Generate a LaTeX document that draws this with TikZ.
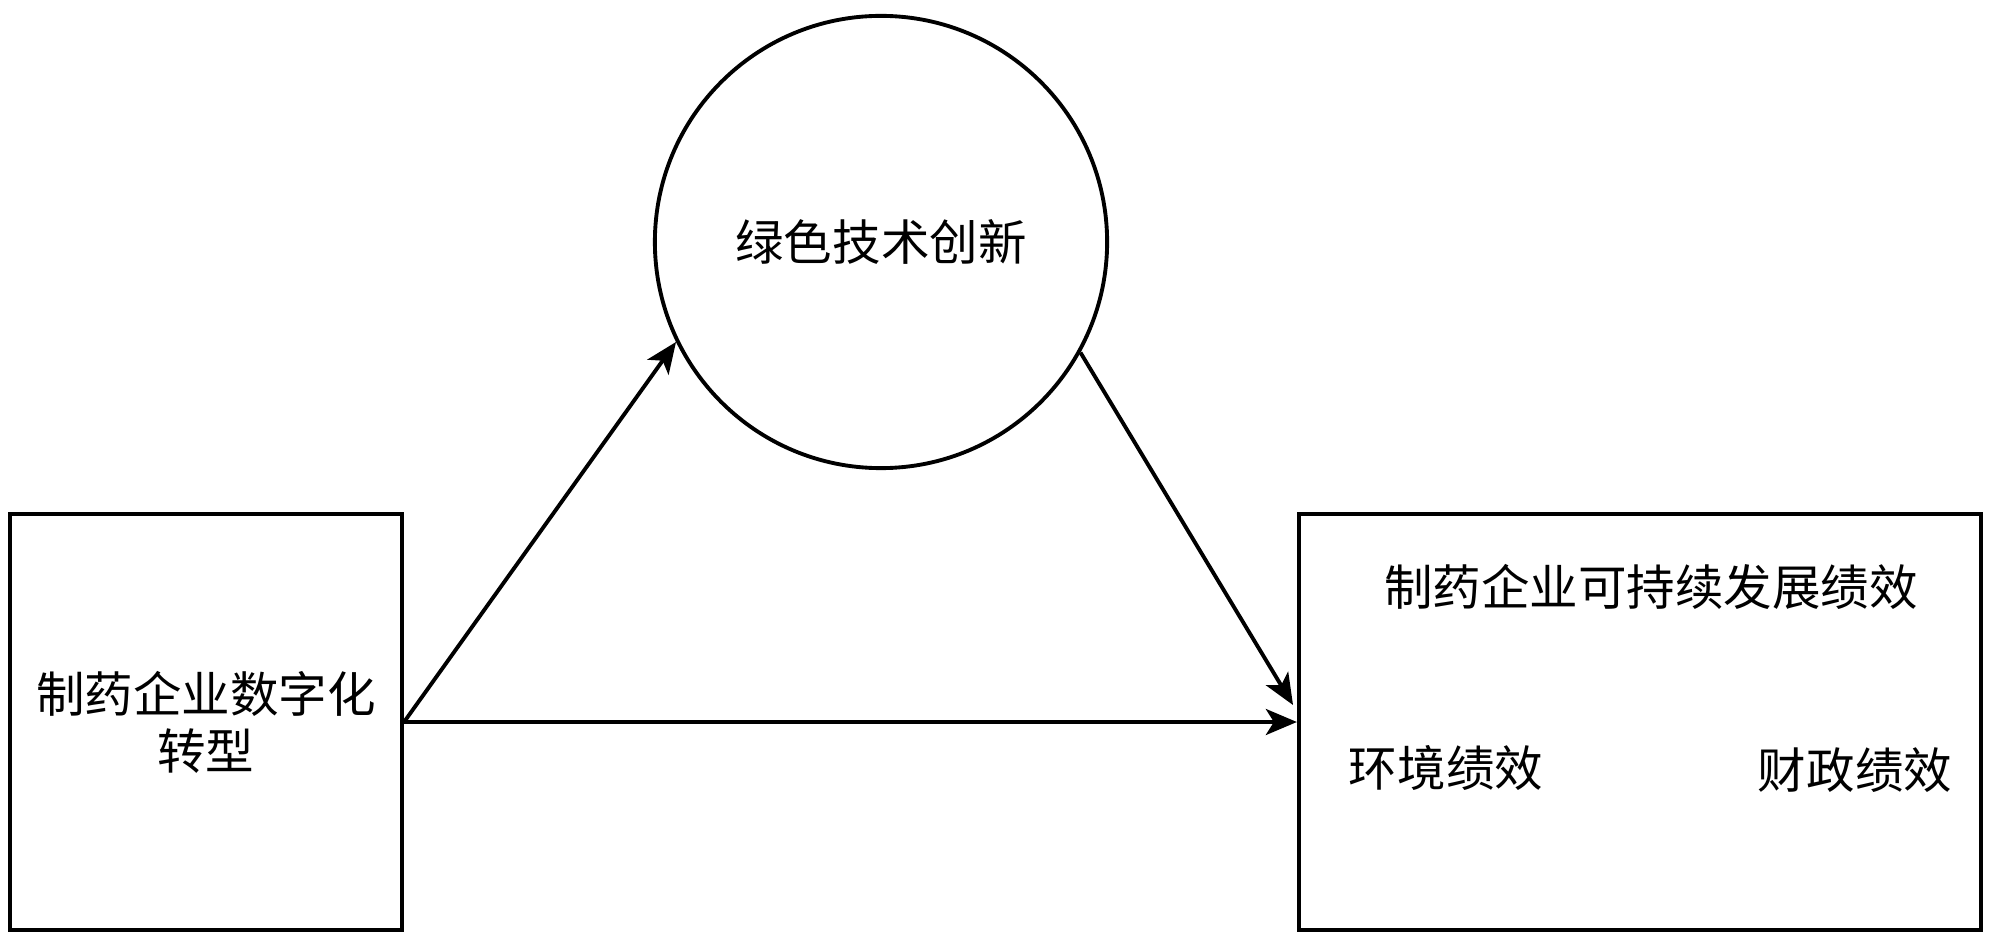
\documentclass[tikz,border=0pt]{standalone}
\usepackage{fontspec}
\newfontfamily\cjk{Noto Sans CJK SC}
\usetikzlibrary{arrows.meta}
\begin{document}
\begin{tikzpicture}[x=0.01cm,y=-0.01cm,
  line width=1.1pt,
  txt/.style={font=\cjk\fontsize{13.8}{16.2}\selectfont, inner sep=0pt},
  boxnode/.style={draw, rectangle, txt, align=center},
  arr/.style={-{Stealth[length=0.31cm,width=0.26cm,inset=0.08cm]}}]
\useasboundingbox (0,0) rectangle (2000,949);
\node[boxnode, minimum width=3.92cm, minimum height=4.16cm] (a) at (206,722) {制药企业数字化\\转型};
\node[draw, circle, txt, minimum size=4.52cm] (g) at (881,242) {绿色技术创新};
\node[draw, rectangle, minimum width=6.82cm, minimum height=4.16cm] (b) at (1640,722) {};
\node[txt] (t) at (1651,587) {制药企业可持续发展绩效};
\node[txt] (e) at (1446,768) {环境绩效};
\node[txt] (f) at (1855,770) {财政绩效};
\coordinate (bt) at (1293,705);
\draw[arr] (a.east) -- (g.206);
\draw[arr] (g.-29) -- (bt);
\draw[arr] (a.east) -- (b.west);
\end{tikzpicture}
\end{document}
